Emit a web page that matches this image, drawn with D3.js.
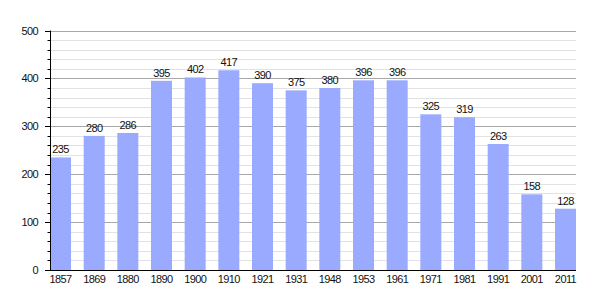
<!DOCTYPE html>
<html><head><meta charset="utf-8">
<script src="https://cdn.jsdelivr.net/npm/d3@7"></script>
<style>body{margin:0;background:#fff}svg{display:block}text{font-family:"Liberation Sans",Arial,sans-serif;font-size:11px;fill:#111;letter-spacing:-0.6px}</style>
</head><body>
<svg id="c" width="605" height="300"></svg>
<script>
const years = ["1857","1869","1880","1890","1900","1910","1921","1931","1948","1953","1961","1971","1981","1991","2001","2011"];
const population = [235,280,286,395,402,417,390,375,380,396,396,325,319,263,158,128];
const majorTicks = [0,100,200,300,400,500];
const minorTicks = d3.range(0,501,20);

const svg = d3.select("#c");
const x0 = 50, x1 = 576, yTop = 30.5, yBot = 270;
const x = d3.scaleBand().domain(years).range([x0, x1]).paddingInner(0.376).paddingOuter(0);
const y = d3.scaleLinear().domain([0,500]).range([yBot, yTop]);

// minor grid
svg.append("g").selectAll("line").data(minorTicks.filter(v=>v%100!==0)).join("line")
  .attr("x1", x0).attr("x2", x1).attr("y1", d=>Math.round(y(d))+0.5).attr("y2", d=>Math.round(y(d))+0.5)
  .attr("stroke", "#e2e2e2").attr("stroke-width", 1);
// major grid
svg.append("g").selectAll("line").data(majorTicks.filter(v=>v>0)).join("line")
  .attr("x1", x0).attr("x2", x1).attr("y1", d=>Math.round(y(d))+0.5).attr("y2", d=>Math.round(y(d))+0.5)
  .attr("stroke", "#a8a8a8").attr("stroke-width", 1);

// bars
svg.append("g").selectAll("rect").data(years).join("rect")
  .attr("x", d=>x(d)).attr("width", x.bandwidth())
  .attr("y", (d,i)=>y(population[i])).attr("height", (d,i)=>yBot - y(population[i]))
  .attr("fill", "#99aaff");

// value labels
svg.append("g").selectAll("text").data(years).join("text")
  .attr("x", d=>x(d)+x.bandwidth()/2).attr("y", (d,i)=>y(population[i])-4)
  .attr("text-anchor","middle").text((d,i)=>population[i]);

// y axis ticks
svg.append("g").selectAll("line").data(minorTicks).join("line")
  .attr("x1", d=> d%100===0 ? 45 : 47.5).attr("x2", x0)
  .attr("y1", d=>Math.round(y(d))+0.5).attr("y2", d=>Math.round(y(d))+0.5)
  .attr("stroke", "#000");
svg.append("g").selectAll("text").data(majorTicks).join("text")
  .attr("x", 38).attr("y", d=>y(d)+4).attr("text-anchor","end").text(d=>d);

// axes lines
svg.append("line").attr("x1", x0+0.5).attr("x2", x0+0.5).attr("y1", yTop).attr("y2", yBot+1).attr("stroke","#000");
svg.append("line").attr("x1", x0).attr("x2", x1).attr("y1", yBot+0.5).attr("y2", yBot+0.5).attr("stroke","#000");

// x labels
svg.append("g").selectAll("text").data(years).join("text")
  .attr("x", d=>x(d)+x.bandwidth()/2).attr("y", 283)
  .attr("text-anchor","middle").text(d=>d);
</script>
</body></html>
